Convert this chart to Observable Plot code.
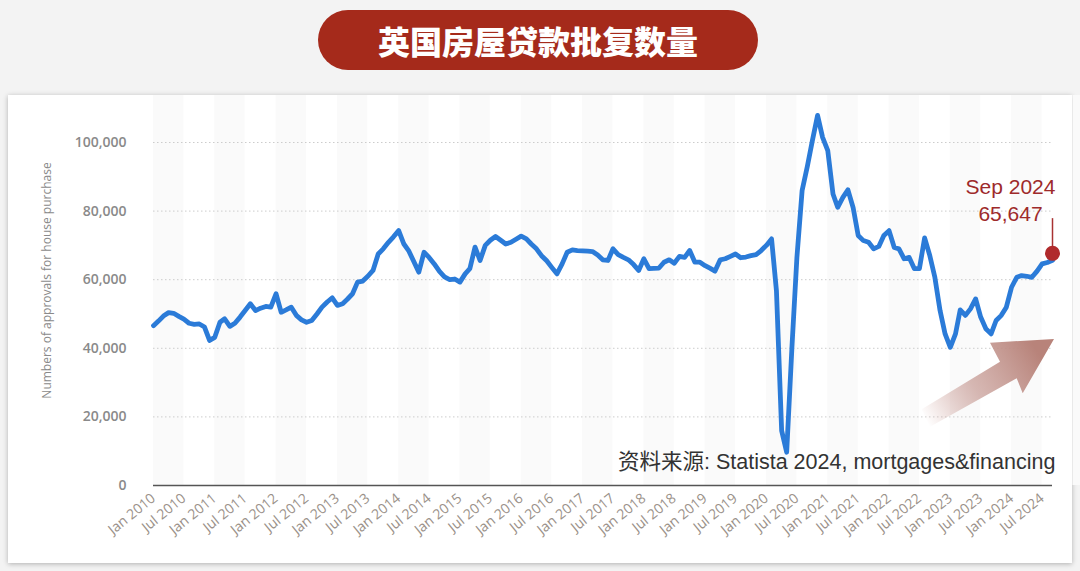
<!DOCTYPE html>
<html>
<head>
<meta charset="utf-8">
<script src="https://cdn.jsdelivr.net/npm/d3@7"></script>
<script src="https://cdn.jsdelivr.net/npm/@observablehq/plot@0.6"></script>
<style>
  html, body { margin: 0; padding: 0; }
  body { width: 1080px; height: 571px; background: #f3f3f3; position: relative; overflow: hidden; font-family: "Liberation Sans", Arial, sans-serif; }
  #title { position: absolute; left: 318px; top: 10px; width: 440px; height: 60px; border-radius: 30px; background: #a52a1b; color: #fff; font-family: "Noto Sans CJK SC", sans-serif; font-weight: 900; font-size: 32px; line-height: 60px; text-align: center; }
  #card { position: absolute; left: 8px; top: 95px; width: 1064px; height: 468px; background: #fff; box-shadow: 0 1px 5px rgba(0,0,0,0.28); }
  #chart { position: absolute; left: 0; top: 0; }
  #source { position: absolute; left: 610px; top: 357px; font-size: 21.5px; line-height: 21px; color: #333; font-family: "Liberation Sans", "Noto Sans CJK SC", sans-serif; white-space: nowrap; }
</style>
</head>
<body>
<div id="title">英国房屋贷款批复数量</div>
<div id="card">
  <div id="chart"></div>
  <div id="source"></div>
</div>
<script>
// ---- data (monthly, Jan 2010 – Sep 2024) ----
const startMonth = "2010-01-01";
const approvals = [
  // 2010
  46600, 48000, 49400, 50400, 50200, 49300, 48500, 47300, 47000, 47100, 46200, 42300,
  // 2011
  43200, 47600, 48600, 46400, 47300, 49100, 51000, 53000, 51000, 51700, 52200, 52000,
  // 2012
  55900, 50500, 51200, 52000, 49600, 48300, 47600, 48100, 50000, 52000, 53500, 54700,
  // 2013
  52500, 53000, 54300, 55900, 59300, 59600, 61000, 62700, 67500, 69000, 70900, 72500,
  // 2014
  74300, 70400, 68500, 65300, 62200, 68000, 66500, 64600, 62400, 60800, 60000, 60200,
  // 2015
  59300, 61700, 63200, 69500, 65600, 70000, 71500, 72600, 71500, 70400, 70900, 71800,
  // 2016
  72700, 71900, 70400, 69000, 67000, 65500, 63600, 61700, 64600, 68000, 68700, 68500,
  // 2017
  68400, 68300, 68200, 67200, 65800, 65600, 69000, 67300, 66500, 65800, 64400, 62700,
  // 2018
  66100, 63200, 63300, 63400, 65100, 65800, 64800, 66800, 66500, 68500, 65100, 65100,
  // 2019
  64100, 63300, 62500, 65800, 66100, 66800, 67500, 66400, 66600, 67000, 67300, 68500,
  // 2020
  70000, 71900, 56800, 16000, 9700, 40000, 66500, 86000, 93000, 100500, 107900, 101500,
  // 2021
  97600, 85000, 81100, 84000, 86200, 81000, 72900, 71400, 70900, 69000, 69700, 72900,
  // 2022
  74300, 69400, 69000, 66100, 66500, 63200, 63200, 72200, 67000, 60700, 51000, 44200,
  // 2023
  40300, 44200, 51200, 49600, 51500, 54400, 49100, 45700, 44200, 48100, 49600, 52000,
  // 2024
  57800, 60700, 61200, 61000, 60700, 62500, 64600, 65000, 65647
];
const yTicks = [0, 20000, 40000, 60000, 80000, 100000];
const yLabel = "Numbers of approvals for house purchase";
const annotationText = "Sep 2024\n65,647";
const annotationRuleTop = 77800;
const sourceText = "资料来源: Statista 2024, mortgages&financing";

// ---- derived tables ----
const start = new Date(startMonth);
const data = approvals.map((v, i) => ({ date: d3.utcMonth.offset(start, i), value: v }));
const last = data[data.length - 1];
const end = last.date;
const xTicks = d3.utcMonth.every(6).range(start, d3.utcMonth.offset(end, 1));
const bands = d3.utcYear.range(start, d3.utcYear.offset(end, 1)).map(d => ({ x1: d, x2: d3.utcMonth.offset(d, 6) }));
const annotation = [{ ...last, ruleTop: annotationRuleTop, label: annotationText }];

const plot = Plot.plot({
  width: 1064,
  height: 468,
  marginLeft: 145,
  marginRight: 20,
  marginTop: 0,
  marginBottom: 78,
  style: { background: "transparent", overflow: "visible", fontFamily: "'Open Sans', sans-serif" },
  x: { type: "utc", domain: [start, end] },
  y: { domain: [0, 113700] },
  marks: [
    Plot.rect(bands, { x1: "x1", x2: "x2", fill: "#fafafa" }),
    Plot.ruleY(yTicks.filter(d => d > 0), { stroke: "#cccccc", strokeWidth: 1, strokeDasharray: "1.5,2.5" }),
    Plot.ruleY([0], { stroke: "#555", strokeWidth: 1.5 }),
    Plot.axisY({ ticks: yTicks, tickFormat: d3.format(","), tickSize: 0, tickPadding: 27, label: null, fontSize: 14, fill: "#8a8a8a", fontWeight: 600, letterSpacing: "1.5px" }),
    Plot.axisX({ ticks: xTicks, tickFormat: d3.utcFormat("%b %Y"), tickSize: 0, tickPadding: 11, tickRotate: -39, label: null, fontSize: 14, fill: "#9a9189", letterSpacing: "1.3px" }),
    Plot.text([yLabel], { frameAnchor: "left", textAnchor: "middle", rotate: -90, dx: -106, dy: -10, fontSize: 12, fill: "#8a8a8a", fontFamily: "'Open Sans', sans-serif" }),
    Plot.line(data, { x: "date", y: "value", stroke: "#2b7bd8", strokeWidth: 4.8, strokeLinejoin: "round", strokeLinecap: "round" }),
    Plot.ruleX(annotation, { x: "date", y1: "value", y2: "ruleTop", stroke: "#a83232", strokeWidth: 1.5 }),
    Plot.dot(annotation, { x: "date", y: "value", r: 7.5, fill: "#b02a2c", stroke: "none", dy: -7 }),
    Plot.text(annotation, { x: "date", y: "value", text: "label", dx: -42, dy: -85, lineAnchor: "top", lineHeight: 1.27, textAnchor: "middle", fontSize: 21, fill: "#9e2a2b", fontFamily: "'Liberation Sans', Arial, sans-serif" })
  ]
});
document.getElementById("chart").appendChild(plot);
document.getElementById("source").textContent = sourceText;

// decorative trend arrow
const svg = d3.select(plot);
const defs = svg.append("defs");
const grad = defs.append("linearGradient").attr("id", "arrowGrad").attr("gradientUnits", "userSpaceOnUse")
  .attr("x1", 918).attr("y1", 326).attr("x2", 1030).attr("y2", 258);
grad.append("stop").attr("offset", "0").attr("stop-color", "#c48f87").attr("stop-opacity", 0);
grad.append("stop").attr("offset", "0.45").attr("stop-color", "#c9a09a").attr("stop-opacity", 0.75);
grad.append("stop").attr("offset", "1").attr("stop-color", "#b8837a").attr("stop-opacity", 1);
const pts = [[913.7,314.3],[992,266.7],[982,247.7],[1046,244],[1014.7,298.3],[1008.7,283.3],[922,331.7]];
svg.insert("polygon", "g[aria-label='line']").attr("points", pts.map(p => p.join(",")).join(" ")).attr("fill", "url(#arrowGrad)");
</script>
</body>
</html>
